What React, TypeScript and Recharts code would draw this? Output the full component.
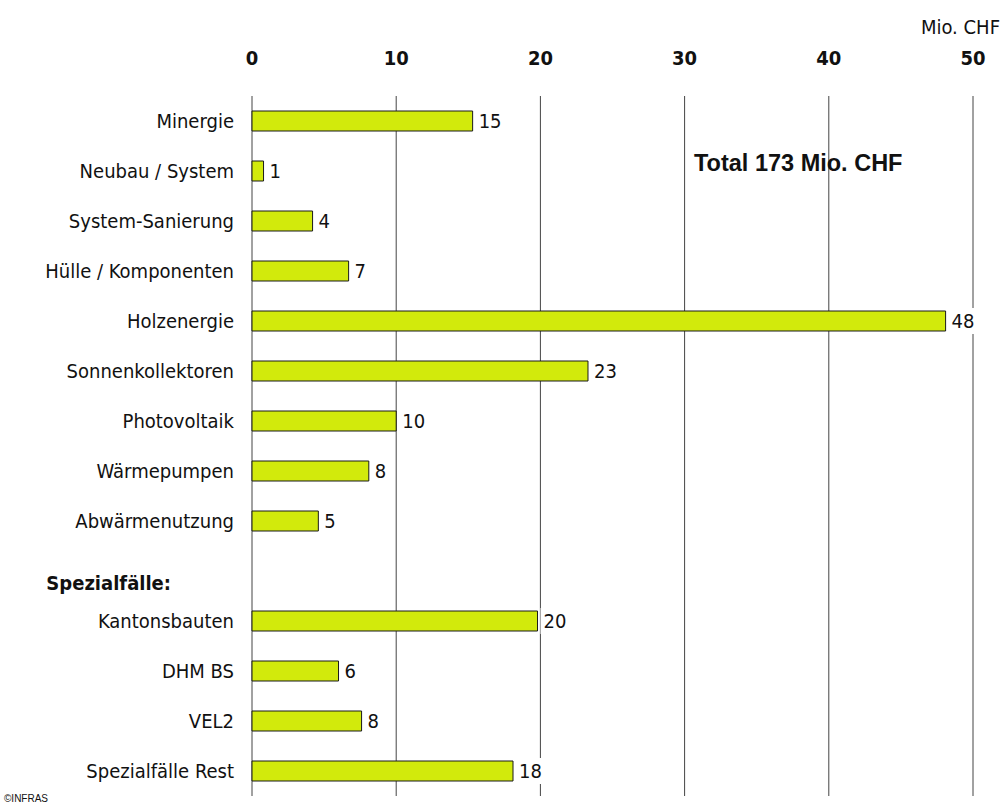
import React from "react";
import { BarChart, Bar, XAxis, YAxis, CartesianGrid, LabelList } from "recharts";

const categories = [
  "Minergie",
  "Neubau / System",
  "System-Sanierung",
  "Hülle / Komponenten",
  "Holzenergie",
  "Sonnenkollektoren",
  "Photovoltaik",
  "Wärmepumpen",
  "Abwärmenutzung",
  "Spezialfälle:",
  "Kantonsbauten",
  "DHM BS",
  "VEL2",
  "Spezialfälle Rest",
];
const values: (number | null)[] = [15.3, 0.8, 4.2, 6.7, 48.1, 23.3, 10.0, 8.1, 4.6, null, 19.8, 6.0, 7.6, 18.1];
const valueLabels = ["15", "1", "4", "7", "48", "23", "10", "8", "5", "", "20", "6", "8", "18"];
const headerCategory = "Spezialfälle:";
const xTicks = [0, 10, 20, 30, 40, 50];
const unitLabel = "Mio. CHF";
const totalLabel = "Total 173 Mio. CHF";
const sourceLabel = "©INFRAS";

const data = categories.map((name, i) => ({ name, value: values[i], label: valueLabels[i] }));

const FONT = "'DejaVu Sans Condensed', 'DejaVu Sans', sans-serif";

const XTick = (props: any) => {
  const { x, y, payload } = props;
  return (
    <text x={x} y={y - 31} textAnchor="middle" fontFamily={FONT} fontWeight="bold" fontSize={20} fill="#111">
      {payload.value}
    </text>
  );
};

const YTick = (props: any) => {
  const { x, y, payload } = props;
  if (payload.value === headerCategory) {
    return (
      <text x={x - 81} y={y + 12} dy="0.35em" textAnchor="end" fontFamily={FONT} fontWeight="bold" fontSize={20} fill="#111">
        {payload.value}
      </text>
    );
  }
  return (
    <text x={x - 18} y={y} dy="0.35em" textAnchor="end" fontFamily={FONT} fontSize={20} fill="#111">
      {payload.value}
    </text>
  );
};

const ValueLabel = (props: any) => {
  const { x, y, width, height, value } = props;
  if (value === undefined || value === null || value === "") return null;
  const tx = Number(x) + Number(width) + 6;
  const cy = Number(y) + Number(height) / 2;
  const w = String(value).length * 11;
  return (
    <g>
      <rect x={tx - 3} y={cy - 13} width={w + 10} height={26} fill="#fff" />
      <text x={tx} y={cy} dy="0.35em" fontFamily={FONT} fontSize={20} fill="#111">
        {value}
      </text>
    </g>
  );
};

export default function App() {
  return (
    <div style={{ position: "relative", width: 1003, height: 805 }}>
      <style>{"html,body{margin:0;padding:0;overflow:hidden;}"}</style>
      <BarChart
        width={1003}
        height={805}
        data={data}
        layout="vertical"
        margin={{ top: 0, right: 30, bottom: 9, left: 0 }}
      >
        <CartesianGrid vertical={true} horizontal={false} stroke="#444" strokeWidth={1} />
        <XAxis
          type="number"
          orientation="top"
          domain={[0, 50]}
          ticks={xTicks}
          height={96}
          axisLine={false}
          tickLine={false}
          tickSize={0}
          tickMargin={0}
          tick={<XTick />}
          interval={0}
        />
        <YAxis
          type="category"
          dataKey="name"
          width={252}
          axisLine={false}
          tickLine={false}
          tickSize={0}
          tickMargin={0}
          tick={<YTick />}
          interval={0}
        />
        <Bar dataKey="value" fill="#d2ea0c" stroke="#1a1a1a" strokeWidth={1} barSize={20} isAnimationActive={false}>
          <LabelList dataKey="label" content={<ValueLabel />} />
        </Bar>
      </BarChart>
      <svg width={1003} height={805} style={{ position: "absolute", left: 0, top: 0, pointerEvents: "none" }}>
        <text x={1000} y={34} textAnchor="end" fontFamily={FONT} fontSize={20} fill="#111">
          {unitLabel}
        </text>
        <text x={694} y={171} fontFamily="'Liberation Sans', Arial, sans-serif" fontWeight="bold" fontSize={23.5} fill="#111">
          {totalLabel}
        </text>
        <text x={4} y={802} fontFamily="'Liberation Sans', Arial, sans-serif" fontSize={10} fill="#111">
          {sourceLabel}
        </text>
      </svg>
    </div>
  );
}
